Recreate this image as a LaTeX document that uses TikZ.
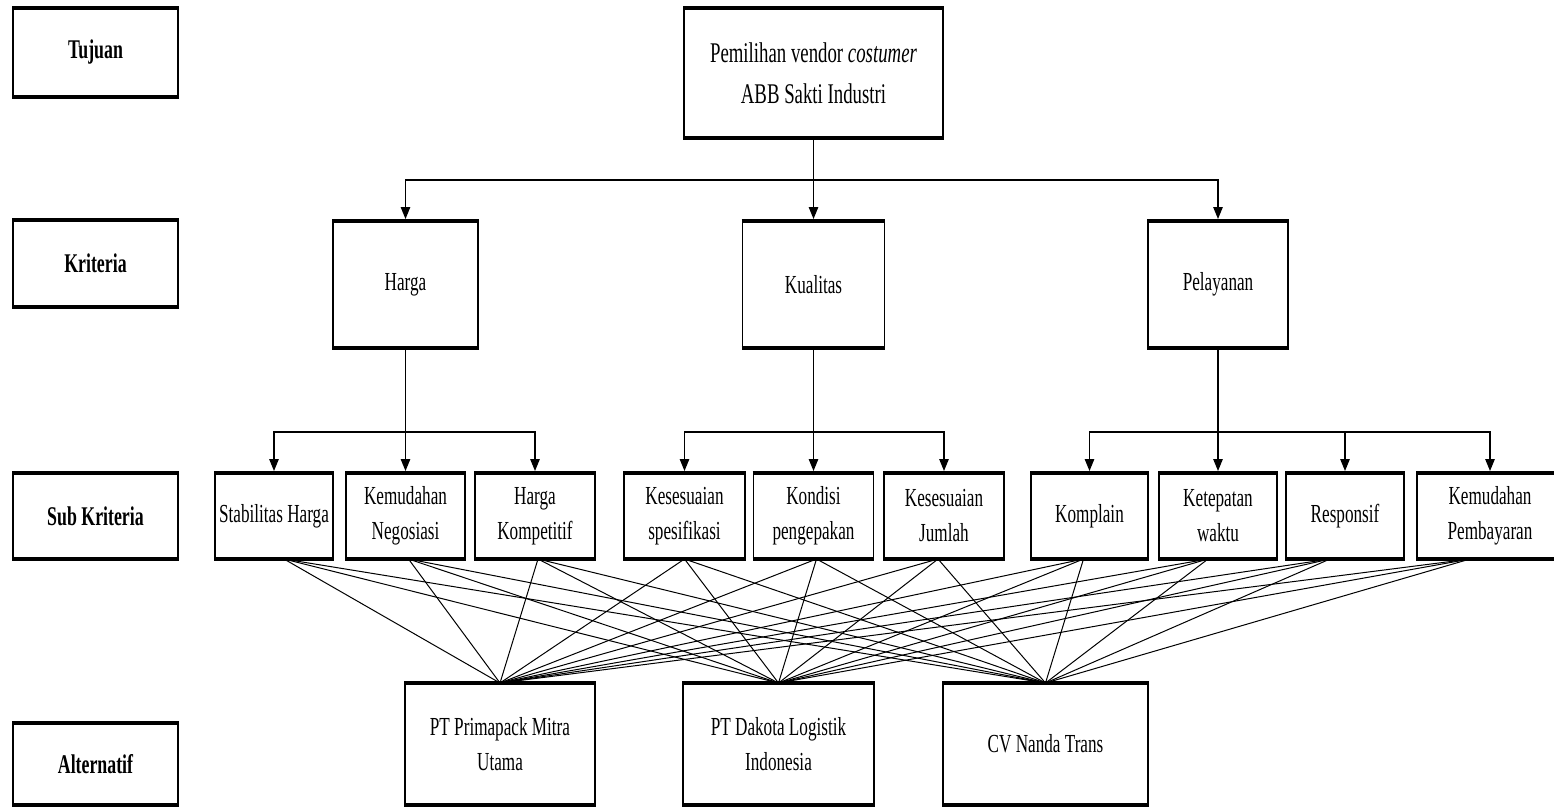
\documentclass[tikz,border=0pt]{standalone}
\usepackage{fontspec}
\setmainfont{Liberation Serif}[FakeStretch=0.66]
\usetikzlibrary{arrows.meta}
\begin{document}
\begin{tikzpicture}[x=1pt,y=-1pt,
  thk/.style={draw,line width=4.5pt,shorten <=-0.8pt,shorten >=-0.8pt},
  bx/.style={draw,line width=1.6pt,inner sep=0pt,outer sep=0pt,align=center,
    font=\fontsize{26}{35}\selectfont,
    append after command={(\tikzlastnode.north west) edge[thk] (\tikzlastnode.north east)
      (\tikzlastnode.south west) edge[thk] (\tikzlastnode.south east)}},
  lbl/.style={bx,font=\fontsize{27}{35}\selectfont\bfseries,minimum width=165pt},
  sub/.style={bx,minimum height=86pt},
  ln/.style={line width=1.2pt},
  arr/.style={line width=1.2pt,-{Triangle[length=12pt,width=9.5pt]},shorten >=2pt},
  web/.style={line width=1pt}]
\useasboundingbox (0,0) rectangle (1554,807);
\fill[white] (0,0) rectangle (1554,807);
% level labels
\node[lbl,minimum height=89pt] (tujuan) at (95.5,52.5) {Tujuan};
\node[lbl,minimum height=87pt] (kriteria) at (95.5,263.5) {Kriteria};
\node[lbl,minimum height=86pt] (subkrit) at (95.5,516) {Sub Kriteria};
\node[lbl,minimum height=82pt] (altlbl) at (95.5,764) {Alternatif};
% goal
\node[bx,minimum width=259pt,minimum height=130pt,font=\fontsize{28.5}{41}\selectfont] (goal) at (813.5,73)
  {Pemilihan vendor \textit{costumer}\\ABB Sakti Industri};
% criteria
\node[bx,minimum width=145pt,minimum height=127pt] (harga) at (405.5,284.5) {Harga};
\node[bx,minimum width=142pt,minimum height=127pt] (kual) at (813.5,284.5) {Kualitas};
\node[bx,minimum width=140pt,minimum height=127pt] (pel) at (1218,284.5) {Pelayanan};
% sub criteria
\node[sub,minimum width=118pt] (s1) at (274,516) {Stabilitas Harga};
\node[sub,minimum width=119pt] (s2) at (405.5,516) {Kemudahan\\Negosiasi};
\node[sub,minimum width=120pt] (s3) at (535,516) {Harga\\Kompetitif};
\node[sub,minimum width=121pt] (s4) at (684.5,516) {Kesesuaian\\spesifikasi};
\node[sub,minimum width=120pt] (s5) at (813.5,516) {Kondisi\\pengepakan};
\node[sub,minimum width=120pt] (s6) at (944,516) {Kesesuaian\\Jumlah};
\node[sub,minimum width=117pt] (s7) at (1089.5,516) {Komplain};
\node[sub,minimum width=118pt] (s8) at (1218,516) {Ketepatan\\waktu};
\node[sub,minimum width=118pt] (s9) at (1345,516) {Responsif};
\node[sub,minimum width=146pt] (s10) at (1490,516) {Kemudahan\\Pembayaran};
% alternatives
\node[bx,minimum width=190pt,minimum height=122pt] (a1) at (500,744) {PT Primapack Mitra\\Utama};
\node[bx,minimum width=191pt,minimum height=122pt] (a2) at (778.5,744) {PT Dakota Logistik\\Indonesia};
\node[bx,minimum width=205pt,minimum height=122pt] (a3) at (1045.5,744) {CV Nanda Trans};
% goal -> criteria
\coordinate (j0) at (813.5,180);
\draw[ln] (goal.south) -- (j0);
\draw[arr] (j0) -| (harga.north);
\draw[arr] (j0) -- (kual.north);
\draw[arr] (j0) -| (pel.north);
% criteria -> sub criteria
\coordinate (j1) at (405.5,432);
\draw[ln] (harga.south) -- (j1);
\draw[arr] (j1) -| (s1.north);
\draw[arr] (j1) -- (s2.north);
\draw[arr] (j1) -| (s3.north);
\coordinate (j2) at (813.5,432);
\draw[ln] (kual.south) -- (j2);
\draw[arr] (j2) -| (s4.north);
\draw[arr] (j2) -- (s5.north);
\draw[arr] (j2) -| (s6.north);
\coordinate (j3) at (1218,432);
\draw[ln] (pel.south) -- (j3);
\draw[arr] (j3) -| (s7.north);
\draw[arr] (j3) -- (s8.north);
\draw[arr] (j3) -| (s9.north);
\draw[arr] (j3) -| (s10.north);
% sub criteria -> alternatives
\foreach \s/\d in {s1/10,s2/3,s3/3,s4/0,s5/3,s6/-6,s7/-6,s8/-10,s9/-15,s10/-20}{
  \foreach \a in {a1,a2,a3}{
    \draw[web] ([xshift=\d pt]\s.south) -- (\a.north);
  }
}
\end{tikzpicture}
\end{document}
